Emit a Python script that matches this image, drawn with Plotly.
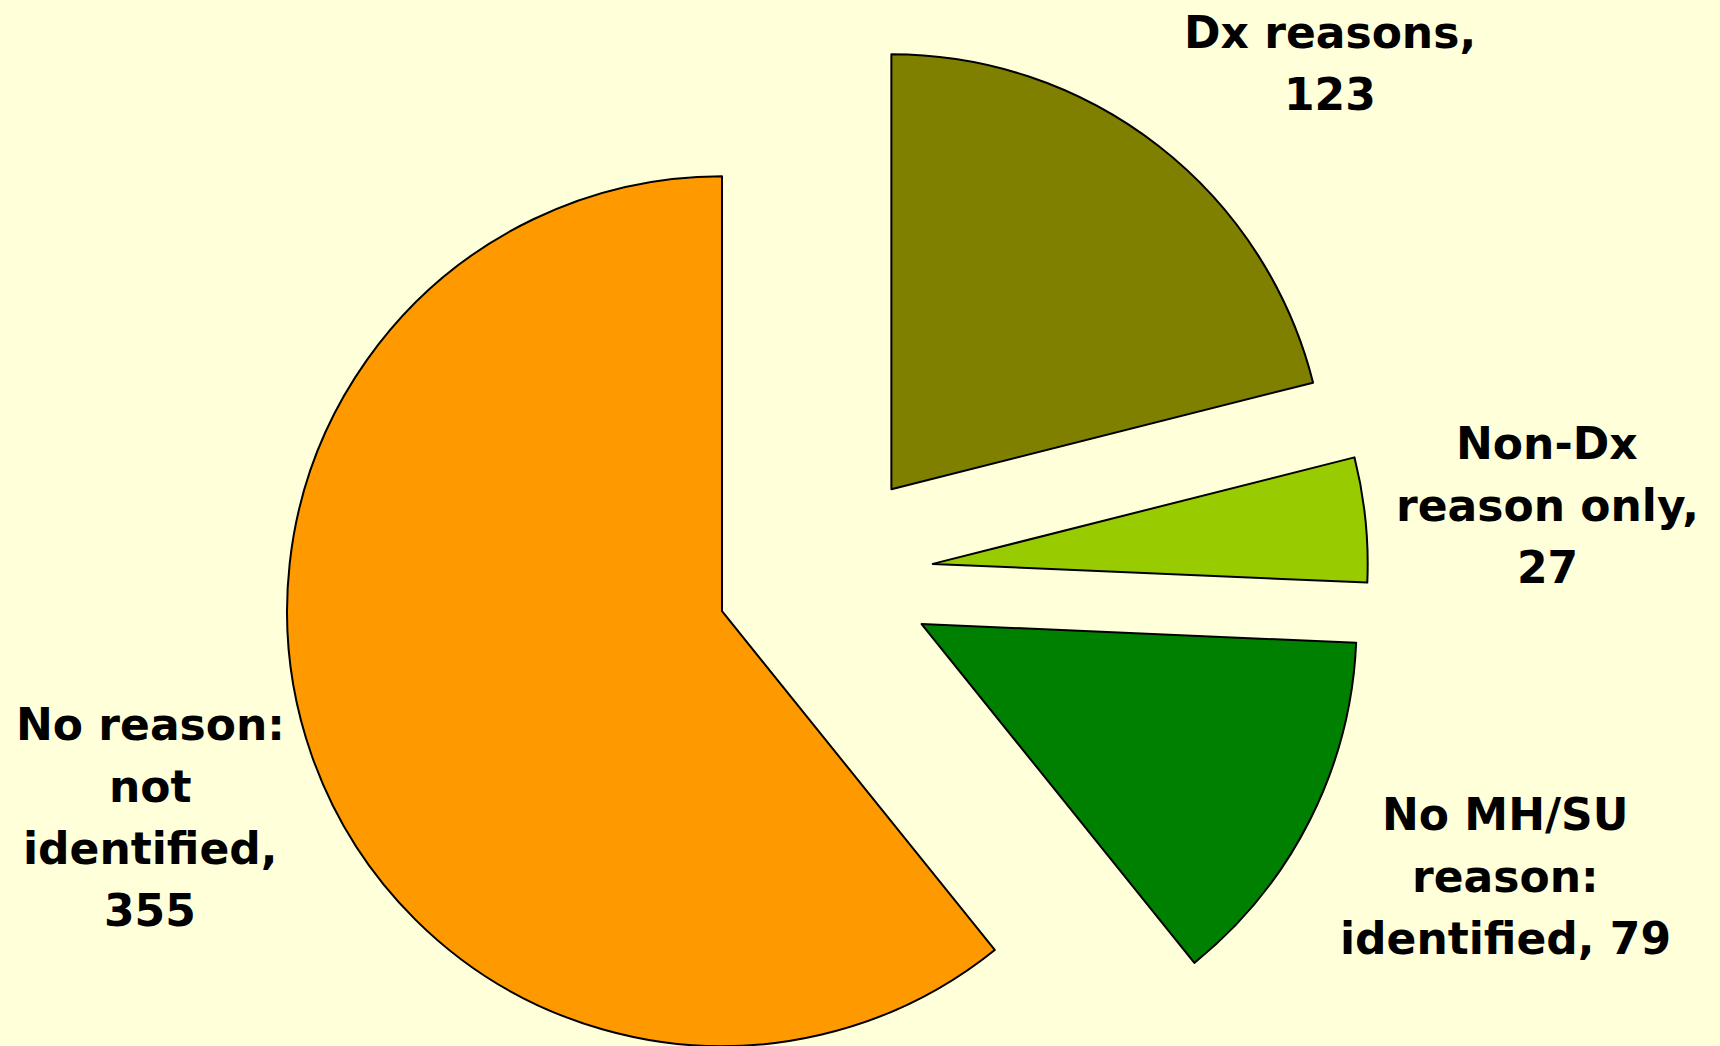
import plotly.graph_objects as go

# Slice data (clockwise from 12 o'clock)
categories = ["Dx reasons", "Non-Dx reason only", "No MH/SU reason: identified", "No reason: not identified"]
values = [123, 27, 79, 355]
colors = ["#808000", "#99CC00", "#008000", "#FF9900"]

# Label text: wrapped category names and the separator placed before each value
label_names = ["Dx reasons,", "Non-Dx<br>reason only,", "No MH/SU<br>reason:<br>identified,", "No reason:<br>not<br>identified,"]
label_seps = ["<br>", "<br>", " ", "<br>"]

W, H = 1720, 1150
BG = "#FFFFDA"

# Label placement in pixels: x centre and y centre of the first line
label_px = [(1330, 33), (1547, 444), (1505, 814), (150, 724)]
LINE_STEP = 62  # px between consecutive label lines
FONT = dict(family="DejaVu Sans", size=44, color="black", weight="bold")

fig = go.Figure(
    go.Pie(
        labels=categories,
        values=values,
        sort=False,
        direction="clockwise",
        rotation=0,
        pull=[0.25] * len(values),
        marker=dict(colors=colors, line=dict(color="black", width=2)),
        textinfo="none",
        hoverinfo="label+value",
        showlegend=False,
        domain=dict(x=[0.1633, 0.7955], y=[0.0272, 0.9728]),
    )
)

for name, sep, val, (px, py) in zip(label_names, label_seps, values, label_px):
    lines = f"{name}{sep}{val}".split("<br>")
    for i, line in enumerate(lines):
        fig.add_annotation(
            text=line,
            x=px / W,
            y=1 - (py + i * LINE_STEP) / H,
            xref="paper",
            yref="paper",
            xanchor="center",
            yanchor="middle",
            showarrow=False,
            font=FONT,
        )

fig.update_layout(
    width=W,
    height=H,
    margin=dict(l=0, r=0, t=0, b=0),
    paper_bgcolor=BG,
    plot_bgcolor=BG,
)

fig.write_html("out.html")
